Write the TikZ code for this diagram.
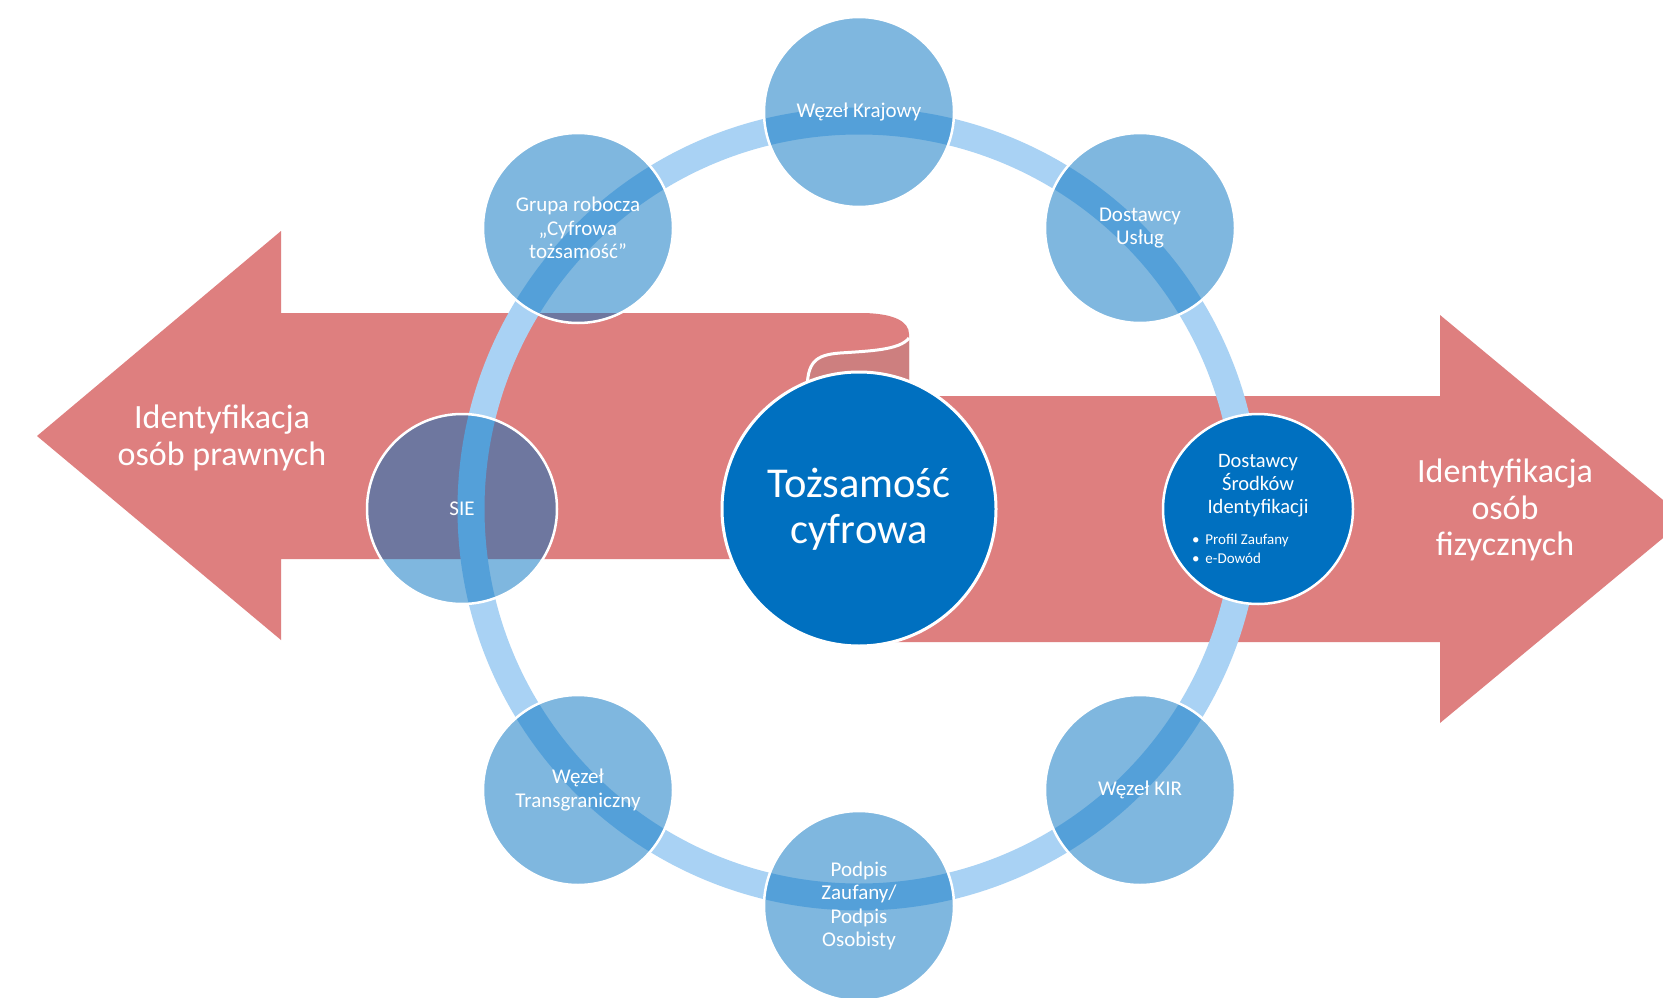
\documentclass[tikz,border=0pt]{standalone}
\usepackage{fontspec}
\setmainfont{Carlito}
\definecolor{arrowred}{RGB}{222,127,127}
\definecolor{curlred}{RGB}{205,127,127}
\definecolor{ringblue}{RGB}{169,210,244}
\definecolor{mainblue}{RGB}{0,112,192}
\tikzset{
  sat/.style={circle, minimum size=190pt, inner sep=0pt, fill=mainblue, fill opacity=0.5,
    text opacity=1, draw=white, draw opacity=1, line width=2.5pt, text=white, align=center,
    font=\fontsize{21}{23.5}\selectfont},
  keycircle/.style={circle, minimum size=190pt, inner sep=0pt, fill=mainblue, draw=white,
    line width=2.5pt, text=white},
  centercircle/.style={circle, minimum size=274pt, inner sep=0pt, fill=mainblue, draw=white,
    line width=3pt, text=white, align=center, font=\fontsize{42.5}{46}\selectfont},
  arrowtext/.style={text=white, align=center, inner sep=0pt, font=\fontsize{34}{36.5}\selectfont},
  ringline/.style={draw=ringblue, line width=27pt},
}
\begin{document}
\begin{tikzpicture}[x=1pt,y=-1pt]
\fill[white] (0,0) rectangle (1663,998);
\useasboundingbox (0,0) rectangle (1663,998);
\clip (0,0) rectangle (1663,998);
% right arrow
\fill[arrowred] (850,396) -- (1440,396) -- (1440,315) -- (1686,519) -- (1440,723) -- (1440,642) -- (850,642) -- cycle;
% left arrow with scroll end
\fill[arrowred] (37,436) -- (281,231) -- (281,313) -- (860,313) .. controls (895,313) and (909,322) .. (909,334) -- (909,559) -- (281,559) -- (281,640) -- cycle;
\fill[curlred] (909,338) .. controls (900,350) and (870,351) .. (840,353) .. controls (815,355) and (807,362) .. (807,385) -- (807,430) -- (909,430) -- cycle;
\draw[white, line width=3pt] (909,338) .. controls (900,350) and (870,351) .. (840,353) .. controls (815,355) and (807,362) .. (807,392);
% arrow texts
\node[arrowtext] (lt) at (222,438) {Identyfikacja\\osób prawnych};
\node[arrowtext] (rt) at (1505,510) {Identyfikacja\\osób\\fizycznych};
% ring
\coordinate (c) at (859,509);
\draw[ringline] (c) circle[radius=388];
% center
\node[centercircle] (tc) at (c) {Tożsamość\\cyfrowa};
% satellites
\node[sat] (wk) at (859,112) {Węzeł Krajowy};
\node[sat] (du) at (1140,228) {Dostawcy\\Usług};
\node[sat] (kir) at (1140,790) {Węzeł KIR};
\node[sat] (pz) at (859,906) {Podpis\\Zaufany/\\Podpis\\Osobisty};
\node[sat] (wt) at (578,790) {Węzeł\\Transgraniczny};
\node[sat] (sie) at (462,509) {SIE};
\node[sat] (gr) at (578,228) {Grupa robocza\\„Cyfrowa\\tożsamość”};
\node[keycircle] (dsi) at (1258,509) {\parbox{134pt}{\centering\fontsize{20.5}{23}\selectfont Dostawcy\\Środków\\Identyfikacji\par\vspace{11pt}\raggedright\fontsize{15}{19.5}\selectfont\hspace*{1pt}\textbullet\hspace{6pt}Profil Zaufany\\\hspace*{1pt}\textbullet\hspace{6pt}e-Dowód\par}};
\end{tikzpicture}
\end{document}
